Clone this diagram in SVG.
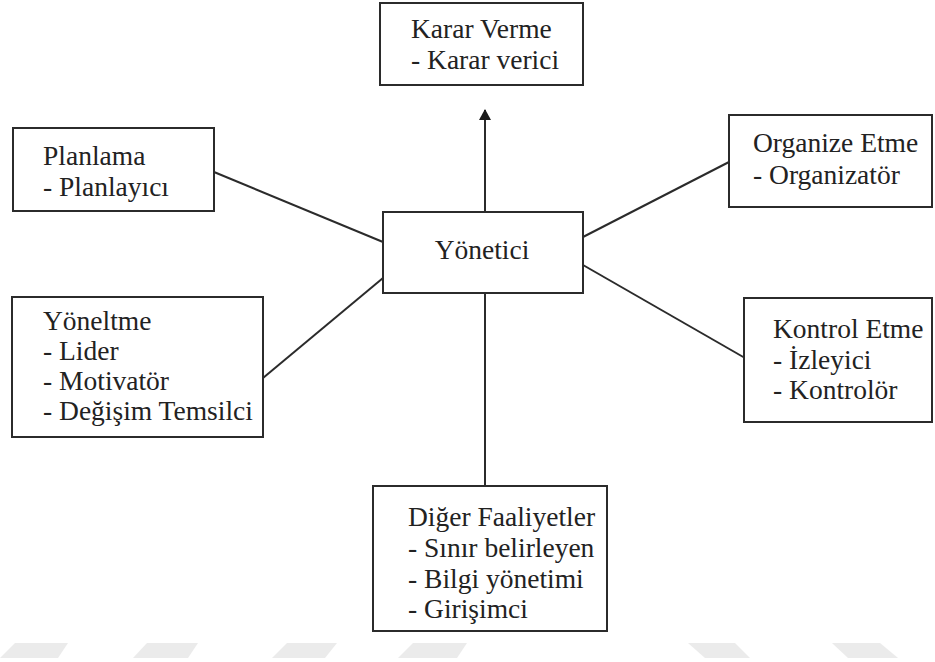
<svg xmlns="http://www.w3.org/2000/svg" width="935" height="662" viewBox="0 0 935 662">
<style>
.box{fill:#fff;stroke:#2b2b2b;stroke-width:2}
.t{font-family:'Liberation Serif','Times New Roman',serif;font-size:27.5px;fill:#222}
.c{stroke:#2b2b2b;stroke-width:2;fill:none}
.wm{fill:#ebebeb}
</style>
<defs>
<marker id="arr" markerWidth="12" markerHeight="12" refX="10" refY="6" orient="auto" markerUnits="userSpaceOnUse">
<path d="M0,0 L11,6 L0,12 Z" fill="#1a1a1a"/>
</marker>
</defs>
<rect width="935" height="662" fill="#fff"/>
<g id="watermark">
<polygon class="wm" points="15,643 68,643 58,658 0,658"/>
<polygon class="wm" points="147,643 198,643 188,658 133,658"/>
<polygon class="wm" points="287,643 337,643 325,658 272,658"/>
<polygon class="wm" points="413,643 467,643 457,658 398,658"/>
<polygon class="wm" points="688,643 735,643 750,658 705,658"/>
<polygon class="wm" points="832,643 880,643 898,658 848,658"/>
</g>
<g id="connectors">
<line class="c" x1="485" y1="212" x2="485" y2="110" marker-end="url(#arr)"/>
<line class="c" x1="214" y1="172" x2="383" y2="242"/>
<line class="c" x1="263" y1="378" x2="383" y2="278"/>
<line class="c" x1="583" y1="237" x2="729" y2="162"/>
<line class="c" x1="583" y1="265" x2="745" y2="358"/>
<line class="c" x1="485" y1="293" x2="485" y2="486"/>
</g>
<g id="karar">
<rect class="box" x="380" y="3" width="203" height="82"/>
<text class="t" x="411" y="38">Karar Verme</text>
<text class="t" x="411" y="69">- Karar verici</text>
</g>
<g id="planlama">
<rect class="box" x="13" y="128" width="201" height="83"/>
<text class="t" x="43" y="165">Planlama</text>
<text class="t" x="43" y="196">- Planlayıcı</text>
</g>
<g id="yoneltme">
<rect class="box" x="12" y="297" width="251" height="140"/>
<text class="t" x="43" y="330">Yöneltme</text>
<text class="t" x="43" y="360">- Lider</text>
<text class="t" x="43" y="390">- Motivatör</text>
<text class="t" x="43" y="420">- Değişim Temsilci</text>
</g>
<g id="yonetici">
<rect class="box" x="383" y="212" width="200" height="81"/>
<text class="t" x="482" y="259" text-anchor="middle">Yönetici</text>
</g>
<g id="organize">
<rect class="box" x="729" y="115" width="203" height="92"/>
<text class="t" x="753" y="152">Organize Etme</text>
<text class="t" x="753" y="184">- Organizatör</text>
</g>
<g id="kontrol">
<rect class="box" x="744" y="298" width="188" height="124"/>
<text class="t" x="773" y="338">Kontrol Etme</text>
<text class="t" x="773" y="369">- İzleyici</text>
<text class="t" x="773" y="399">- Kontrolör</text>
</g>
<g id="diger">
<rect class="box" x="373" y="486" width="234" height="145"/>
<text class="t" x="408" y="526">Diğer Faaliyetler</text>
<text class="t" x="408" y="557">- Sınır belirleyen</text>
<text class="t" x="408" y="588">- Bilgi yönetimi</text>
<text class="t" x="408" y="618">- Girişimci</text>
</g>
</svg>
